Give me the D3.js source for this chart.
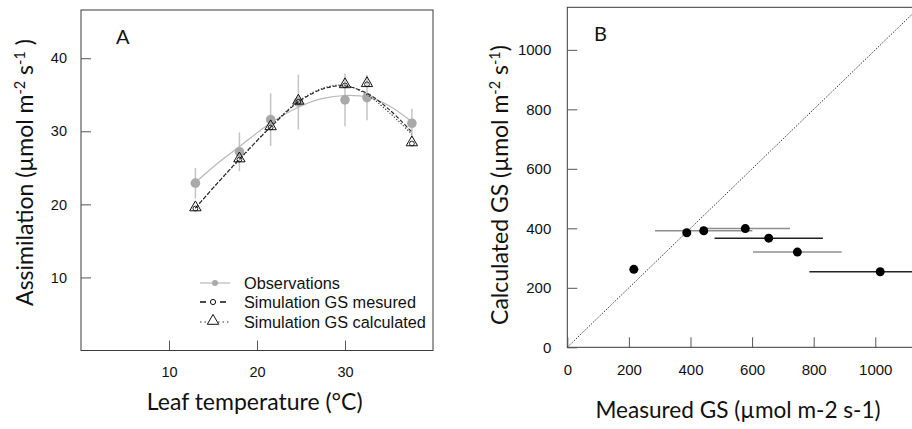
<!DOCTYPE html>
<html><head><meta charset="utf-8">
<script src="https://cdn.jsdelivr.net/npm/d3@7"></script>
<style>body{margin:0;background:#fff}svg{display:block}</style>
</head><body>
<svg id="c" width="912" height="429"></svg>
<script>
// ---- Panel A data ----
const tempObs = [13.0, 18.0, 21.55, 24.7, 30.0, 32.5, 37.6];
const assimObs = [22.9, 27.2, 31.6, 34.0, 34.3, 34.6, 31.1];
const assimObsErr = [2.1, 2.65, 3.6, 3.75, 3.6, 3.1, 2.0];
const assimSimMes = [19.5, 26.2, 30.6, 34.1, 36.35, 36.5, 28.4];
const assimSimCalc = [19.5, 26.2, 30.6, 34.1, 36.35, 36.5, 28.4];
// fitted curves (sampled from the figure)
const fitX = [13, 15.5, 18, 21.5, 24.7, 27.5, 30, 32.5, 35, 37.6];
const fitObs = [23.0, 25.6, 27.9, 31.1, 33.3, 34.5, 34.9, 34.7, 33.5, 31.3];
const fitMes = [19.5, 22.9, 26.2, 30.5, 34.0, 35.8, 36.2, 35.2, 33.0, 29.9];
const fitCalc = [19.5, 22.9, 26.1, 30.6, 34.1, 35.9, 36.3, 35.0, 32.6, 29.6];
const xTicksA = [10, 20, 30];
const yTicksA = [10, 20, 30, 40];
const legendA = ["Observations", "Simulation GS mesured", "Simulation GS calculated"];

// ---- Panel B data ----
const gsMeasured = [216, 388, 443, 578, 654, 747, 1016];
const gsCalculated = [262, 385, 392, 399, 367, 320, 254];
const gsMeasuredErr = [0, 0, 158, 145, 176, 144, 230];
const gsErrDark = [false, false, false, false, true, false, true];
const xTicksB = [0, 200, 400, 600, 800, 1000];
const yTicksB = [0, 200, 400, 600, 800, 1000];

const svg = d3.select("#c");
const tickFont = "'Liberation Sans', Arial, sans-serif";
const titleFont = "Lato, 'Open Sans', sans-serif";

// ================= Panel A =================
const xA = d3.scaleLinear().domain([0, 40]).range([81, 433]);
const yA = d3.scaleLinear().domain([0, 46.6]).range([350.5, 10]);
const gA = svg.append("g");

gA.append("rect").attr("x", 81).attr("y", 10).attr("width", 352).attr("height", 340.5)
  .attr("fill", "none").attr("stroke", "#3a3a3a").attr("stroke-width", 1);

const axA_x = gA.append("g").attr("transform", "translate(0,350.5)")
  .call(d3.axisBottom(xA).tickValues(xTicksA).tickSize(-10).tickPadding(16).tickFormat(d3.format("d")));
const axA_y = gA.append("g").attr("transform", "translate(81,0)")
  .call(d3.axisLeft(yA).tickValues(yTicksA).tickSize(-10).tickPadding(14).tickFormat(d3.format("d")));
[axA_x, axA_y].forEach(a => {
  a.select(".domain").remove();
  a.selectAll("line").attr("stroke", "#555");
  a.selectAll("text").attr("font-family", tickFont).attr("font-size", 14.5).attr("fill", "#111");
});

const lineA = (ys) => d3.line().x((d, i) => xA(fitX[i])).y(d => yA(d)).curve(d3.curveCatmullRom)(ys);
// error bars
gA.selectAll(".eb").data(tempObs).enter().append("line")
  .attr("x1", d => xA(d)).attr("x2", d => xA(d))
  .attr("y1", (d, i) => yA(assimObs[i] + assimObsErr[i]))
  .attr("y2", (d, i) => yA(assimObs[i] - assimObsErr[i]))
  .attr("stroke", "#c4c4c4").attr("stroke-width", 1.5);
gA.append("path").attr("d", lineA(fitObs)).attr("fill", "none").attr("stroke", "#b8b8b8").attr("stroke-width", 1.2);
gA.selectAll(".ob").data(tempObs).enter().append("circle")
  .attr("cx", d => xA(d)).attr("cy", (d, i) => yA(assimObs[i])).attr("r", 4.8).attr("fill", "#a9a9a9");
gA.append("path").attr("d", lineA(fitMes)).attr("fill", "none").attr("stroke", "#222").attr("stroke-width", 1.1).attr("stroke-dasharray", "4,2");
gA.append("path").attr("d", lineA(fitCalc)).attr("fill", "none").attr("stroke", "#333").attr("stroke-width", 1.1).attr("stroke-dasharray", "1.2,1.8");
const tri = d3.symbol().type(d3.symbolTriangle).size(56);
gA.selectAll(".tr").data(tempObs).enter().append("path")
  .attr("d", tri).attr("transform", (d, i) => `translate(${xA(d)},${yA(assimSimCalc[i]) - 0.5})`)
  .attr("fill", "none").attr("stroke", "#111").attr("stroke-width", 1);
gA.selectAll(".cm").data(tempObs).enter().append("circle")
  .attr("cx", d => xA(d)).attr("cy", (d, i) => yA(assimSimMes[i]) + 0.5).attr("r", 2.4)
  .attr("fill", "none").attr("stroke", "#111").attr("stroke-width", 0.9);

// legend
const legY = [283, 302, 322];
const lg = gA.append("g");
lg.append("line").attr("x1", 200).attr("x2", 230).attr("y1", legY[0]).attr("y2", legY[0]).attr("stroke", "#b8b8b8").attr("stroke-width", 1.2);
lg.append("circle").attr("cx", 215).attr("cy", legY[0]).attr("r", 3).attr("fill", "#a9a9a9");
lg.append("line").attr("x1", 200).attr("x2", 230).attr("y1", legY[1]).attr("y2", legY[1]).attr("stroke", "#111").attr("stroke-width", 1.3).attr("stroke-dasharray", "6,4");
lg.append("circle").attr("cx", 213).attr("cy", legY[1]).attr("r", 2.6).attr("fill", "#fff").attr("stroke", "#111").attr("stroke-width", 1);
lg.append("line").attr("x1", 200).attr("x2", 230).attr("y1", legY[2]).attr("y2", legY[2]).attr("stroke", "#333").attr("stroke-width", 1).attr("stroke-dasharray", "1.5,3");
lg.append("path").attr("d", tri).attr("transform", `translate(213,${legY[2] - 1})`).attr("fill", "#fff").attr("stroke", "#111").attr("stroke-width", 1);
lg.selectAll("text").data(legendA).enter().append("text")
  .attr("x", 244).attr("y", (d, i) => legY[i]).attr("dy", "0.36em")
  .attr("font-family", tickFont).attr("font-size", 16.3).attr("fill", "#111").text(d => d);

gA.append("text").attr("x", 116).attr("y", 44).attr("font-family", titleFont).attr("font-size", 20).attr("fill", "#111").text("A");

// axis titles
const tA = gA.append("text").attr("transform", "translate(33,172.5) rotate(-90)").attr("text-anchor", "middle")
  .attr("font-family", titleFont).attr("font-size", 23).attr("fill", "#111");
tA.append("tspan").text("Assimilation (µmol m");
tA.append("tspan").attr("baseline-shift", "super").attr("font-size", 14.5).text("-2");
tA.append("tspan").text(" s");
tA.append("tspan").attr("baseline-shift", "super").attr("font-size", 14.5).text("-1");
tA.append("tspan").text(" )");
gA.append("text").attr("x", 254.7).attr("y", 410).attr("text-anchor", "middle")
  .attr("font-family", titleFont).attr("font-size", 23).attr("fill", "#111").text("Leaf temperature (°C)");

// ================= Panel B =================
const xB = d3.scaleLinear().domain([0, 1140]).range([567.3, 918.4]);
const yB = d3.scaleLinear().domain([0, 1143]).range([347.3, 7.3]);
const gB = svg.append("g");
gB.append("rect").attr("x", 567.3).attr("y", 7.3).attr("width", 351).attr("height", 340)
  .attr("fill", "none").attr("stroke", "#3a3a3a").attr("stroke-width", 1);
const axB_x = gB.append("g").attr("transform", "translate(0,347.3)")
  .call(d3.axisBottom(xB).tickValues(xTicksB).tickSize(-10).tickPadding(17).tickFormat(d3.format("d")));
const axB_y = gB.append("g").attr("transform", "translate(567.3,0)")
  .call(d3.axisLeft(yB).tickValues(yTicksB).tickSize(-10).tickPadding(16).tickFormat(d3.format("d")));
[axB_x, axB_y].forEach(a => {
  a.select(".domain").remove();
  a.selectAll("line").attr("stroke", "#555");
  a.selectAll("text").attr("font-family", tickFont).attr("font-size", 15).attr("fill", "#111");
});
// 1:1 line
gB.append("line").attr("x1", xB(0)).attr("y1", yB(0)).attr("x2", xB(1140)).attr("y2", yB(1140))
  .attr("stroke", "#333").attr("stroke-width", 1).attr("stroke-dasharray", "1.5,1.5");
const errIdx = d3.range(gsMeasured.length).filter(i => gsMeasuredErr[i] > 0);
gB.selectAll(".eb").data(errIdx).enter().append("line")
  .attr("x1", i => xB(gsMeasured[i] - gsMeasuredErr[i]))
  .attr("x2", i => xB(gsMeasured[i] + gsMeasuredErr[i]))
  .attr("y1", i => yB(gsCalculated[i]))
  .attr("y2", i => yB(gsCalculated[i]))
  .attr("stroke", i => gsErrDark[i] ? "#222" : "#8e8e8e").attr("stroke-width", 1.5);
gB.selectAll(".pt").data(gsMeasured).enter().append("circle")
  .attr("cx", d => xB(d)).attr("cy", (d, i) => yB(gsCalculated[i])).attr("r", 4.5).attr("fill", "#000");
gB.append("text").attr("x", 594).attr("y", 41.3).attr("font-family", titleFont).attr("font-size", 20).attr("fill", "#111").text("B");
const tB = gB.append("text").attr("transform", "translate(508,185) rotate(-90)").attr("text-anchor", "middle")
  .attr("font-family", titleFont).attr("font-size", 23).attr("fill", "#111");
tB.append("tspan").text("Calculated GS (µmol m");
tB.append("tspan").attr("baseline-shift", "super").attr("font-size", 14.5).text("-2");
tB.append("tspan").text(" s");
tB.append("tspan").attr("baseline-shift", "super").attr("font-size", 14.5).text("-1");
tB.append("tspan").text(")");
gB.append("text").attr("x", 738).attr("y", 418).attr("text-anchor", "middle")
  .attr("font-family", titleFont).attr("font-size", 22.6).attr("fill", "#111").text("Measured GS (µmol m-2 s-1)");
</script>
</body></html>
